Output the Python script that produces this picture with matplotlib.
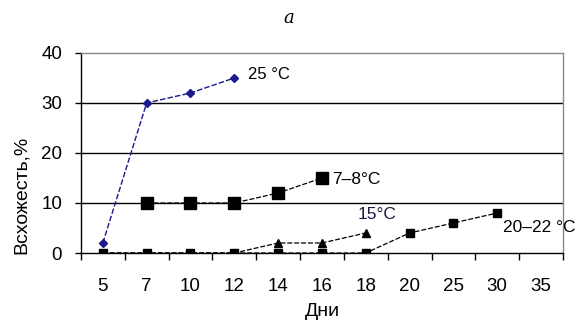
import matplotlib
matplotlib.use("Agg")
import matplotlib.pyplot as plt
import numpy as np

plt.rcParams['font.family'] = ['Liberation Sans', 'DejaVu Sans']

days = ["5", "7", "10", "12", "14", "16", "18", "20", "25", "30", "35"]
s25_idx = [0, 1, 2, 3]
s25_val = [2, 30, 32, 35]
s78_idx = [1, 2, 3, 4, 5]
s78_val = [10, 10, 10, 12, 15]
s15_idx = [0, 1, 2, 3, 4, 5, 6]
s15_val = [0, 0, 0, 0, 2, 2, 4]
s2022_idx = [0, 1, 2, 3, 4, 5, 6, 7, 8, 9]
s2022_val = [0, 0, 0, 0, 0, 0, 0, 4, 6, 8]
yticks = [0, 10, 20, 30, 40]

fig = plt.figure(figsize=(5.78, 3.29), dpi=100)
ax = fig.add_axes([0.140, 0.231, 0.834, 0.608])

for y in [10, 20, 30]:
    ax.axhline(y, color='black', lw=1.0, zorder=1)

ax.plot(s2022_idx, s2022_val, color='black', lw=0.9, ls=(0, (4, 1.5)),
        marker='s', ms=5.5, zorder=3)
ax.plot(s15_idx, s15_val, color='black', lw=0.9, ls=(0, (4, 1.5)),
        marker='^', ms=5.5, zorder=3)
ax.plot(s78_idx, s78_val, color='black', lw=0.9, ls=(0, (4, 1.5)),
        marker='s', ms=8, zorder=4)
ax.plot(s25_idx, s25_val, color='#1a1a8c', lw=1.0, ls=(0, (4, 1.5)),
        marker='D', ms=4, zorder=5)

ax.text(3.31, 35.6, "25 °C", fontsize=12, va='center', ha='left')
ax.text(5.23, 14.6, "7–8°C", fontsize=12.5, va='center', ha='left')
ax.text(5.82, 7.7, "15°C", fontsize=12.5, va='center', ha='left', color='#1a1a40')
ax.text(9.13, 5.0, "20–22 °C", fontsize=12.5, va='center', ha='left', clip_on=False)

ax.set_xlim(-0.5, len(days) - 0.5)
ax.set_ylim(0, 40)
ax.set_xticks(np.arange(-0.5, len(days), 1.0))
ax.set_xticklabels([])
ax.set_xticks(np.arange(len(days)), minor=True)
ax.set_xticklabels(days, minor=True, fontsize=13.5)
ax.tick_params(axis='x', which='major', direction='out', length=5, width=1, color='black')
ax.tick_params(axis='x', which='minor', length=0, pad=18)
ax.set_yticks(yticks)
ax.set_yticklabels([str(v) for v in yticks], fontsize=13.5)
ax.tick_params(axis='y', direction='out', length=4.5, width=1, color='black', pad=9)

ax.spines['left'].set_color('black')
ax.spines['bottom'].set_color('black')
ax.spines['top'].set_color('#888888')
ax.spines['right'].set_color('#888888')
for s in ax.spines.values():
    s.set_linewidth(1.0)

ax.set_ylabel("Всхожесть,%", fontsize=14)
ax.yaxis.set_label_coords(-0.105, 0.29)
ax.set_xlabel("Дни", fontsize=14, labelpad=6)

fig.text(0.5, 0.945, "a", fontsize=13, style='italic', family='DejaVu Serif',
         ha='center', va='center')

fig.savefig("out.png", dpi=100)
